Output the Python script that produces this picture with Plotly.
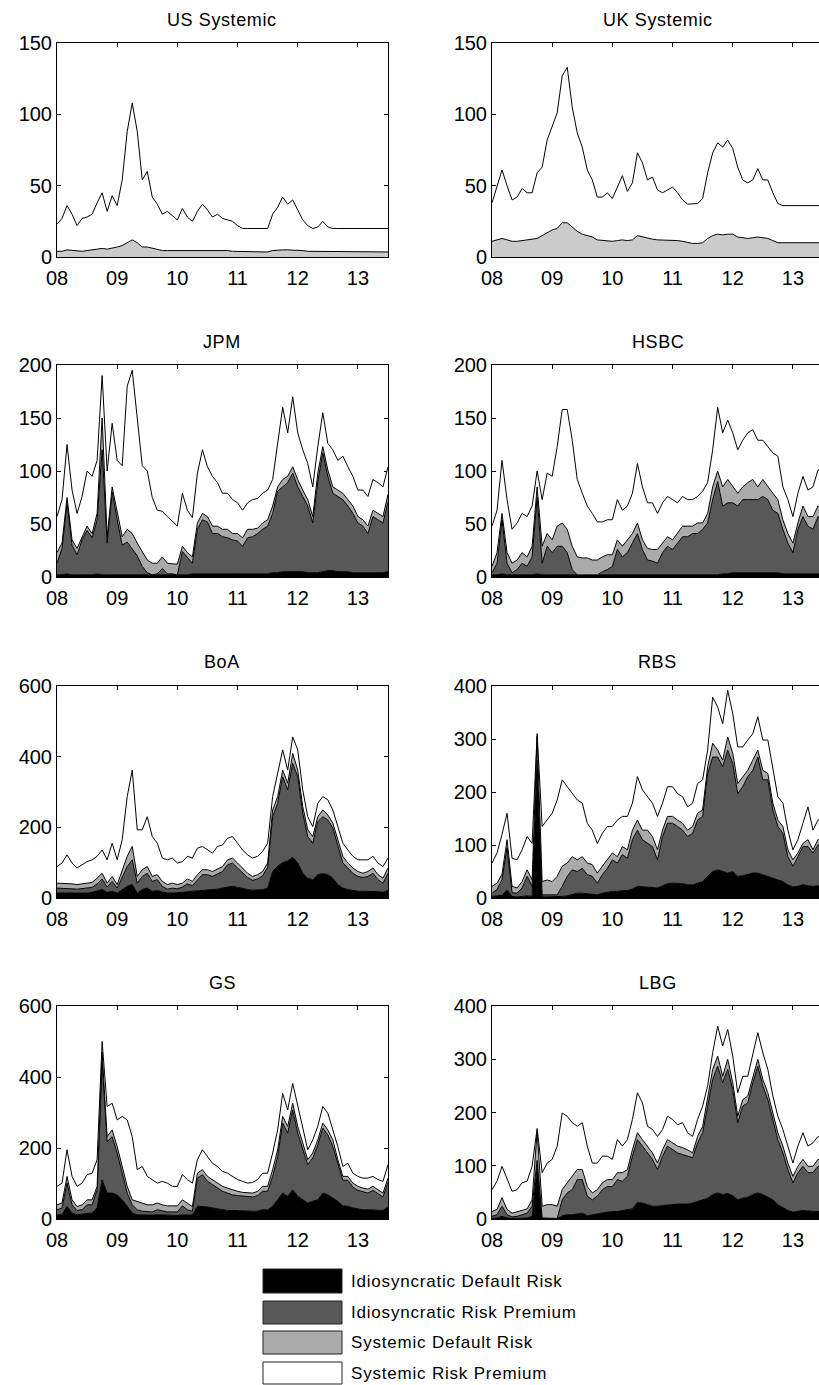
import plotly.graph_objects as go

W, H = 819, 1385
# monthly grid, Jan 2008 .. Aug 2013
X = [2008 + k / 12 for k in range(68)]

# ---- Systemic panels: top of the grey band (systemic default) and total ----
US_SYS_DEFAULT = [4, 4, 5, 4.5, 4, 4, 4.5, 5, 5.5, 6, 5.5, 6,
                  7, 8, 10, 12, 10, 7, 7, 6, 5, 4.5, 4.5, 4.5,
                  4.5, 5, 4.5, 4.5, 5, 5, 5, 4.5, 4.5, 4.5, 4.5, 4,
                  4, 3.5, 3.5, 3.5, 3.5, 3.5, 3.5, 4.5, 5, 5, 5, 5,
                  5, 4.5, 4, 4, 4, 4, 4, 3.5, 3.5, 3.5, 3.5, 3.5,
                  3.5, 3.5, 3.5, 3.5, 3.5, 3.5, 3.5, 3.5]
US_TOTAL = [23, 27, 36, 30, 22, 27, 28, 30, 38, 45, 32, 43,
            36, 54, 88, 108, 88, 54, 60, 42, 37, 30, 32, 29,
            26, 34, 28, 25, 32, 37, 33, 28, 30, 27, 26, 25,
            22, 20, 20, 20, 20, 20, 20, 30, 35, 42, 37, 40,
            33, 26, 22, 20, 21, 25, 21, 20, 20, 20, 20, 20,
            20, 20, 20, 20, 20, 20, 20, 20]
UK_SYS_DEFAULT = [11, 12, 13, 12, 11, 11, 11.5, 11.5, 12, 13, 15, 17,
                  19, 20, 24, 24, 21, 18, 16, 15, 14, 12, 11.5, 11,
                  11, 11.5, 12, 11.5, 12, 15, 14, 13, 12.5, 12, 12, 12,
                  12, 11.5, 11, 10, 9.5, 9.5, 10, 13, 15, 16, 15.5, 16,
                  16, 14, 13.5, 13, 13.5, 14, 13.5, 13, 11.5, 10, 10, 10,
                  10, 10, 10, 10, 10, 10, 10, 10]
UK_TOTAL = [38, 50, 61, 50, 40, 42, 48, 45, 45, 59, 63, 82,
            91, 101, 127, 133, 105, 87, 77, 61, 54, 42, 42, 45,
            41, 49, 57, 46, 52, 73, 66, 54, 56, 47, 45, 47,
            49, 45, 40, 37, 37, 37.5, 41, 59, 73, 80, 77, 82,
            76, 63, 54, 52, 54, 62, 54, 54, 45, 37.5, 36, 36,
            36, 36, 36, 36, 36, 36, 36, 36]

# ---- Bank panels: cumulative band tops ----
# T1 = top of Idiosyncratic Default Risk, T2 = + Idiosyncratic Risk Premium,
# T3 = + Systemic Default Risk, T4 = + Systemic Risk Premium (total)
JPM_T1 = [2, 2, 3, 2, 2, 2, 2, 2, 3, 2, 2, 2,
          2, 2, 2, 2, 2, 2, 2, 2, 2, 2, 2, 2,
          2, 2, 2, 3, 3, 3, 3, 3, 3, 3, 3, 3,
          3, 3, 3, 3, 3, 3, 3, 4, 4, 5, 5, 5,
          5, 5, 4, 4, 4, 5, 6, 6, 5, 5, 5, 4,
          4, 4, 4, 4, 4, 4, 5, 5]
JPM_T2 = [13, 27, 70, 30, 21, 35, 44, 37, 54, 120, 32, 80,
          54, 30, 33, 27, 20, 10, 4, 2, 3, 8, 3, 3,
          2, 24, 18, 13, 45, 54, 52, 41, 41, 38, 37, 35,
          34, 29, 37, 38, 41, 45, 48, 60, 81, 85, 89, 98,
          85, 76, 67, 51, 90, 117, 95, 79, 76, 73, 67, 60,
          51, 48, 41, 57, 54, 51, 71, 72]
JPM_T3 = [23, 32, 75, 35, 27, 38, 48, 41, 60, 150, 38, 85,
          60, 38, 45, 41, 32, 24, 16, 13, 13, 19, 13, 12.5,
          12, 29, 23, 19, 51, 60, 57, 48, 48, 45, 45, 41,
          41, 37, 45, 45, 46, 51, 54, 67, 85, 92, 95, 104,
          92, 82, 73, 57, 98, 123, 101, 85, 82, 79, 73, 67,
          57, 54, 48, 63, 60, 57, 78, 79]
JPM_T4 = [57, 73, 125, 82, 60, 76, 100, 95, 110, 190, 100, 145,
          110, 105, 180, 195, 150, 105, 100, 75, 63, 62, 57, 52,
          48, 79, 63, 56, 98, 120, 104, 95, 89, 79, 79, 73,
          70, 63, 70, 73, 74, 79, 82, 92, 126, 160, 136, 170,
          136, 120, 107, 85, 123, 155, 126, 120, 110, 114, 104, 95,
          82, 82, 76, 92, 89, 85, 104, 106]

HSBC_T1 = [2, 2, 3, 2, 2, 2, 2, 2, 2, 3, 2, 2,
           2, 2, 2, 2, 2, 2, 2, 2, 2, 2, 2, 2,
           2, 2, 2, 2, 2, 2, 2, 2, 2, 2, 2, 2,
           2, 2, 2, 2, 2, 2, 2, 2, 2, 2, 3, 3,
           4, 4, 4, 4, 4, 4, 4, 4, 4, 4, 3, 3,
           3, 3, 3, 3, 3, 3, 3, 3]
HSBC_T2 = [4, 13, 54, 13, 4, 7, 13, 10, 19, 75, 13, 29,
           23, 29, 29, 23, 7, 2, 2, 2, 2, 2, 5, 7,
           10, 26, 19, 23, 32, 41, 26, 16, 15, 13, 23, 29,
           26, 32, 38, 38, 41, 41, 45, 51, 73, 90, 67, 70,
           70, 67, 73, 73, 73, 73, 76, 73, 63, 60, 45, 32,
           23, 45, 57, 48, 45, 57, 55, 55]
HSBC_T3 = [10, 23, 60, 23, 13, 16, 23, 19, 29, 85, 29, 41,
           35, 48, 51, 45, 29, 19, 18, 18, 16, 16, 19, 21,
           21, 35, 29, 35, 41, 51, 35, 27, 26, 26, 32, 38,
           35, 41, 48, 48, 48, 51, 51, 60, 85, 100, 85, 92,
           85, 79, 85, 89, 92, 85, 92, 85, 79, 73, 54, 41,
           32, 51, 67, 57, 57, 67, 65, 65]
HSBC_T4 = [48, 63, 110, 73, 45, 51, 60, 57, 67, 100, 73, 98,
           95, 123, 158, 158, 129, 92, 79, 67, 60, 52, 52, 54,
           54, 73, 63, 67, 79, 107, 85, 70, 70, 60, 70, 76,
           73, 70, 76, 73, 73, 76, 81, 89, 120, 160, 136, 148,
           136, 120, 129, 136, 139, 129, 129, 123, 117, 114, 85, 73,
           57, 79, 95, 82, 85, 101, 100, 100]

BOA_T1 = [14, 14, 14, 14, 13, 14, 14, 16, 19, 24, 16, 19,
          14, 24, 33, 38, 14, 24, 28, 19, 21, 17, 14, 14,
          14, 16, 18, 19, 21, 22, 22, 23, 25, 28, 31, 33,
          30, 26, 24, 22, 22, 24, 28, 75, 90, 100, 105, 115,
          99, 70, 56, 52, 66, 69, 66, 56, 38, 28, 24, 21,
          19, 19, 19, 20, 18, 16, 22, 22]
BOA_T2 = [28, 28, 28, 26, 25, 26, 28, 30, 40, 54, 31, 47,
          28, 61, 89, 108, 42, 61, 70, 47, 52, 33, 25, 28,
          26, 31, 40, 35, 52, 66, 66, 61, 68, 75, 94, 99,
          85, 70, 58, 50, 54, 63, 87, 230, 268, 343, 306, 381,
          343, 240, 174, 155, 216, 230, 221, 198, 146, 99, 85, 70,
          61, 58, 61, 70, 52, 42, 70, 73]
BOA_T3 = [42, 42, 42, 40, 38, 40, 42, 44, 56, 70, 42, 61,
          38, 80, 118, 146, 61, 80, 89, 61, 66, 47, 38, 42,
          38, 42, 54, 47, 66, 80, 80, 75, 82, 89, 108, 113,
          99, 85, 70, 61, 66, 75, 99, 249, 287, 362, 325, 409,
          362, 259, 193, 174, 230, 249, 235, 212, 165, 118, 99, 85,
          75, 70, 75, 85, 66, 56, 85, 87]
BOA_T4 = [89, 99, 122, 99, 85, 94, 103, 108, 118, 136, 108, 155,
          108, 165, 287, 362, 193, 193, 230, 174, 155, 113, 108, 113,
          99, 103, 118, 113, 141, 146, 136, 127, 146, 150, 169, 174,
          155, 136, 122, 113, 118, 132, 155, 287, 353, 419, 362, 456,
          419, 306, 230, 202, 268, 287, 278, 249, 202, 155, 136, 118,
          108, 108, 108, 118, 99, 89, 113, 118]

RBS_T1 = [3, 4, 5, 15, 3, 2, 3, 4, 3, 240, 2, 2,
          2, 2.5, 3, 4, 6, 9, 9, 8, 7.5, 6, 9, 11,
          12.5, 12.5, 14, 14, 17, 22, 21, 21, 20, 19, 23, 27,
          28, 28, 27, 25, 25, 28, 31, 41, 50, 53, 50, 47,
          50, 41, 42, 44, 47, 47, 44, 41, 38, 34, 31, 25,
          21, 22, 25, 23, 22, 23, 23, 23]
RBS_T2 = [9, 16, 35, 95, 10, 9, 19, 41, 22, 260, 6, 6,
          5, 6, 22, 41, 53, 50, 56, 44, 41, 28, 44, 56,
          72, 66, 82, 75, 110, 128, 110, 103, 97, 72, 116, 141,
          141, 135, 128, 116, 122, 147, 154, 235, 266, 266, 248, 279,
          254, 197, 210, 229, 241, 266, 223, 223, 166, 135, 122, 78,
          60, 78, 97, 97, 85, 100, 102, 102]
RBS_T3 = [22, 28, 45, 110, 22, 19, 31, 53, 34, 305, 31, 34,
          31, 41, 60, 66, 78, 72, 78, 66, 63, 47, 60, 72,
          85, 78, 97, 91, 128, 147, 128, 128, 116, 91, 128, 154,
          154, 147, 141, 128, 135, 160, 166, 248, 292, 279, 260, 304,
          273, 216, 229, 241, 260, 279, 241, 235, 179, 147, 135, 91,
          72, 85, 103, 110, 91, 110, 112, 112]
RBS_T4 = [66, 85, 120, 160, 75, 72, 91, 116, 103, 310, 135, 147,
          160, 185, 223, 210, 197, 185, 179, 141, 128, 103, 122, 135,
          135, 147, 154, 154, 179, 229, 204, 191, 179, 154, 179, 210,
          210, 197, 191, 172, 179, 216, 223, 279, 379, 360, 329, 392,
          348, 285, 285, 298, 310, 342, 298, 298, 241, 191, 179, 128,
          91, 110, 141, 172, 128, 147, 150, 150]

GS_T1 = [12, 12, 36, 17, 12, 14, 17, 17, 31, 110, 73, 73,
         68, 54, 36, 17, 12, 11, 11, 11, 12, 11, 10, 10,
         10, 12, 12, 11, 36, 36, 34, 31, 28, 26, 24, 24,
         23, 23, 22, 22, 22, 26, 26, 36, 54, 73, 64, 82,
         64, 54, 45, 50, 54, 73, 68, 59, 50, 37, 36, 31,
         28, 26, 26, 26, 24, 24, 34, 34]
GS_T2 = [26, 31, 101, 40, 24, 26, 40, 40, 82, 440, 218, 232,
         186, 129, 73, 40, 26, 22, 22, 20, 26, 22, 20, 20,
         20, 37, 26, 22, 115, 125, 106, 97, 87, 78, 73, 68,
         66, 64, 62, 62, 66, 78, 78, 120, 176, 270, 242, 307,
         242, 200, 153, 172, 209, 256, 237, 204, 153, 109, 109, 90,
         81, 76, 73, 81, 71, 62, 103, 103]
GS_T3 = [40, 45, 120, 54, 35, 40, 54, 54, 92, 470, 232, 251,
         204, 148, 92, 54, 50, 45, 40, 40, 45, 40, 37, 37,
         37, 54, 45, 35, 129, 139, 120, 111, 101, 92, 87, 82,
         78, 75, 73, 73, 78, 92, 92, 139, 195, 289, 261, 326,
         261, 214, 167, 186, 223, 270, 251, 223, 167, 120, 120, 101,
         92, 87, 84, 92, 82, 73, 115, 115]
GS_T4 = [92, 101, 195, 120, 92, 101, 125, 129, 167, 500, 317, 326,
         279, 289, 279, 232, 139, 148, 120, 111, 101, 106, 101, 92,
         92, 125, 111, 101, 167, 195, 176, 157, 148, 134, 129, 120,
         111, 106, 101, 103, 111, 129, 129, 186, 251, 354, 307, 382,
         317, 251, 195, 223, 261, 317, 298, 251, 204, 148, 157, 129,
         120, 115, 115, 120, 111, 106, 153, 153]

LBG_T1 = [1, 2, 5, 2, 1, 1, 2, 2, 5, 95, 0.5, 0.5,
          0.5, 0.5, 6, 8, 8, 10, 11, 6, 8, 9, 11, 13,
          14, 14, 16, 18, 19, 31, 30, 27, 24, 24, 25, 27,
          28, 28, 28, 28, 30, 33, 36, 39, 46, 49, 46, 48,
          44, 36, 39, 41, 46, 49, 46, 41, 36, 27, 21, 16,
          13, 14, 16, 15, 14, 14, 14, 14]
LBG_T2 = [5, 8, 24, 8, 4, 5, 8, 11, 24, 110, 2, 2,
          2, 1, 36, 49, 55, 74, 74, 43, 36, 43, 55, 61,
          61, 74, 71, 80, 118, 149, 137, 124, 112, 93, 118, 137,
          130, 124, 121, 118, 115, 143, 162, 212, 262, 287, 256, 281,
          243, 181, 212, 218, 256, 287, 250, 224, 187, 149, 124, 93,
          68, 87, 99, 87, 87, 99, 98, 98]
LBG_T3 = [14, 18, 40, 18, 11, 13, 16, 19, 36, 165, 24, 27,
          27, 24, 55, 68, 80, 93, 93, 61, 49, 55, 68, 74,
          74, 87, 87, 93, 130, 162, 149, 137, 124, 105, 130, 149,
          143, 137, 134, 130, 124, 155, 174, 224, 281, 306, 268, 300,
          256, 193, 224, 231, 268, 300, 262, 237, 199, 162, 137, 105,
          80, 99, 112, 99, 99, 112, 110, 110]
LBG_T4 = [55, 71, 99, 74, 52, 55, 68, 71, 99, 170, 87, 105,
          112, 137, 199, 193, 181, 174, 181, 137, 105, 105, 118, 118,
          112, 149, 137, 149, 187, 237, 218, 174, 168, 155, 168, 193,
          187, 177, 181, 162, 155, 187, 212, 250, 312, 362, 325, 356,
          306, 237, 268, 268, 312, 350, 312, 281, 231, 193, 168, 137,
          105, 137, 162, 137, 143, 155, 150, 150]

X_TICK_VALUES = [2008, 2009, 2010, 2011, 2012, 2013]
X_TICK_LABELS = ["08", "09", "10", "11", "12", "13"]

BAND_NAMES = ["Idiosyncratic Default Risk", "Idiosyncratic Risk Premium",
              "Systemic Default Risk", "Systemic Risk Premium"]
BAND_COLORS = ["#000000", "#585858", "#aaaaaa", "#ffffff"]
SYS_COLORS = ["#cbcbcb", "#ffffff"]

PANELS = [
    ("US Systemic", [US_SYS_DEFAULT, US_TOTAL], 150, 50, 0, 0),
    ("UK Systemic", [UK_SYS_DEFAULT, UK_TOTAL], 150, 50, 0, 1),
    ("JPM", [JPM_T1, JPM_T2, JPM_T3, JPM_T4], 200, 50, 1, 0),
    ("HSBC", [HSBC_T1, HSBC_T2, HSBC_T3, HSBC_T4], 200, 50, 1, 1),
    ("BoA", [BOA_T1, BOA_T2, BOA_T3, BOA_T4], 600, 200, 2, 0),
    ("RBS", [RBS_T1, RBS_T2, RBS_T3, RBS_T4], 400, 100, 2, 1),
    ("GS", [GS_T1, GS_T2, GS_T3, GS_T4], 600, 200, 3, 0),
    ("LBG", [LBG_T1, LBG_T2, LBG_T3, LBG_T4], 400, 100, 3, 1),
]

FONT = "Liberation Sans, Arial, Helvetica, sans-serif"
ROWS_PX = [(43, 257), (365, 577), (686, 898), (1006, 1219)]
COLS_PX = [(57, 388), (492, 823)]
TITLE_Y_PX = [20, 342, 662, 983]
YEAR_PX = (388 - 57) / 5.5


def px_x(p):
    return p / W


def px_y(p):
    return 1 - p / H


fig = go.Figure()
layout = dict(
    template="none",
    width=W, height=H, autosize=False,
    margin=dict(l=0, r=0, t=0, b=0, pad=0, autoexpand=False),
    paper_bgcolor="white", plot_bgcolor="white",
    showlegend=False, font=dict(family=FONT, color="black"),
    annotations=[], shapes=[],
)

for i, (title, bands, ymax, dtick, r, c) in enumerate(PANELS):
    n = i + 1
    xname = "x" if n == 1 else f"x{n}"
    yname = "y" if n == 1 else f"y{n}"
    colors = SYS_COLORS if len(bands) == 2 else BAND_COLORS
    for j, band in enumerate(bands):
        fig.add_trace(go.Scatter(
            x=X, y=band, mode="lines",
            line=dict(color="black", width=1),
            fill="tozeroy" if j == 0 else "tonexty",
            fillcolor=colors[j],
            xaxis=xname, yaxis=yname, hoverinfo="skip", showlegend=False,
        ))
    x0p, x1p = COLS_PX[c]
    x1vis = min(x1p, W)
    t0, t1 = ROWS_PX[r]
    xr = [2008, 2008 + (x1vis - x0p) / YEAR_PX]
    common = dict(
        showline=True, linecolor="black", linewidth=1,
        ticks="inside", ticklen=4, tickcolor="black", tickwidth=1,
        showgrid=False, zeroline=False, layer="below traces",
        tickfont=dict(family=FONT, size=20, color="black"),
        fixedrange=True, automargin=False,
    )
    layout["xaxis" if n == 1 else f"xaxis{n}"] = dict(
        common, domain=[px_x(x0p), px_x(x1vis)], range=xr,
        tickmode="array", tickvals=X_TICK_VALUES, ticktext=X_TICK_LABELS,
        mirror="ticks", anchor=yname, ticklabelstandoff=3,
    )
    layout["yaxis" if n == 1 else f"yaxis{n}"] = dict(
        common, domain=[px_y(t1), px_y(t0)], range=[0, ymax],
        tickmode="linear", tick0=0, dtick=dtick,
        mirror="ticks" if c == 0 else False, anchor=xname,
    )
    layout["annotations"].append(dict(
        text=f'<span style="letter-spacing:0.6px">{title}</span>',
        xref="paper", yref="paper",
        x=px_x((x0p + x1p) / 2), y=px_y(TITLE_Y_PX[r]),
        xanchor="center", yanchor="middle", showarrow=False,
        font=dict(family=FONT, size=18, color="black"),
    ))

# legend (drawn as boxes + labels)
LEG_BOX_PX = [(1269, 1293), (1301, 1324), (1331, 1354), (1362, 1384)]
for name, color, (ty, by) in zip(BAND_NAMES, BAND_COLORS, LEG_BOX_PX):
    layout["shapes"].append(dict(
        type="rect", xref="paper", yref="paper",
        x0=px_x(263), x1=px_x(342), y0=px_y(by), y1=px_y(ty),
        fillcolor=color, line=dict(color="#222222", width=1),
    ))
    layout["annotations"].append(dict(
        text=f'<span style="letter-spacing:0.8px">{name}</span>',
        xref="paper", yref="paper",
        x=px_x(349), y=px_y((ty + by) / 2),
        xanchor="left", yanchor="middle", showarrow=False,
        font=dict(family=FONT, size=17, color="black"),
    ))

fig.update_layout(**layout)
fig.write_html(
    "out.html",
    config={"displayModeBar": False, "staticPlot": True},
    post_script="document.body.style.margin='0';document.body.style.padding='0';",
)
